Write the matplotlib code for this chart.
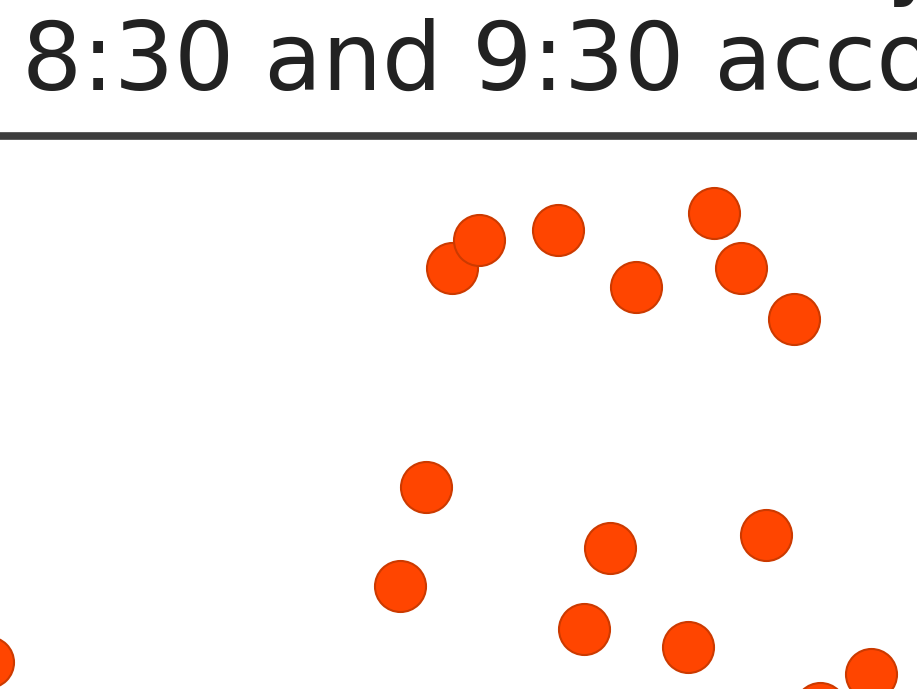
import matplotlib
matplotlib.use("Agg")
import matplotlib.pyplot as plt

# station positions (arbitrary map units)
station_x = [4.52, 4.79, 5.58, 6.36, 7.14, 7.41, 7.94,
             4.26, 4.00, 6.10, 7.66, 5.84, 6.88, 8.71, 8.20, -0.12]
station_y = [4.21, 4.49, 4.59, 4.02, 4.76, 4.21, 3.70,
             2.02, 1.03, 1.41, 1.54, 0.60, 0.42, 0.15, -0.19, 0.27]

title_line1 = "Number of visits by station between"
title_line2 = "8:30 and 9:30 according to the trip records"

fig = plt.figure(figsize=(9.17, 6.89), dpi=100)
fig.patch.set_facecolor("white")

# axes fills the figure width, top spine sits just under the title
ax = fig.add_axes([0, 0, 1, 1 - 136 / 689])
ax.scatter(station_x, station_y, s=1350, c="#ff4500",
           edgecolors="#cc3a00", linewidths=1.5, zorder=3)
ax.set_xlim(0, 9.17)
ax.set_ylim(0, 5.53)
ax.set_xticks([])
ax.set_yticks([])
for side in ["left", "right", "bottom"]:
    ax.spines[side].set_visible(False)
ax.spines["top"].set_color("#3d3d3d")
ax.spines["top"].set_linewidth(5.5)

fig.text(22 / 917, 1 + 13 / 689, title_line1, fontsize=68,
         ha="left", va="baseline", color="#222222")
fig.text(22 / 917, 1 - 90 / 689, title_line2, fontsize=68,
         ha="left", va="baseline", color="#222222")

fig.savefig("out.png", dpi=100)
